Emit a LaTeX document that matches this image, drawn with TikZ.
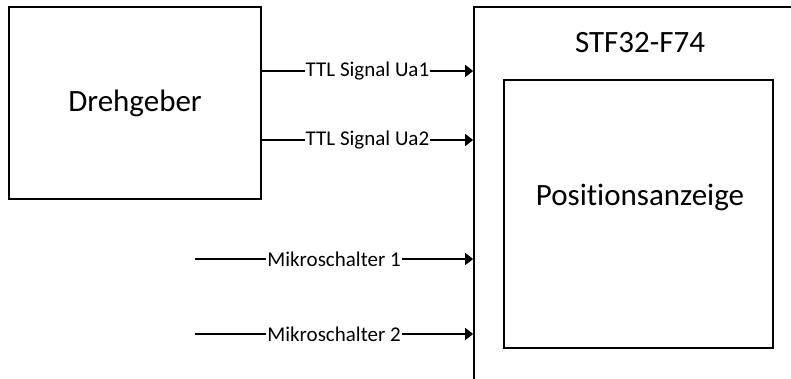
\documentclass[tikz,border=0pt]{standalone}
\usepackage{fontspec}
\setmainfont{Carlito}[Ligatures={NoCommon},Contextuals={NoAlternate}]
\usetikzlibrary{arrows.meta}
\begin{document}
\begin{tikzpicture}[x=1pt,y=-1pt,
  box/.style={draw=black,line width=1.7pt,fill=white,inner sep=0pt},
  bigtext/.style={font=\fontsize{31}{36}\selectfont,inner sep=0pt},
  lbl/.style={font=\fontsize{21}{24}\selectfont,fill=white,inner sep=1pt},
  arr/.style={line width=1.7pt,-{Triangle[length=8pt,width=12pt]}}]
\clip (0,0) rectangle (791,378);
\fill[white] (0,0) rectangle (791,378);
% Drehgeber
\node[box,minimum width=252pt,minimum height=192pt] (dreh) at (135,103) {};
\node[bigtext] (drehtext) at (135,103) {Drehgeber};
% STF32-F74 outer box (extends beyond the picture)
\node[box,minimum width=340pt,minimum height=400pt] (stf) at (644,207) {};
\node[bigtext] (stftext) at (640,43) {STF32-F74};
% Positionsanzeige inner box
\node[box,minimum width=269pt,minimum height=268pt] (pos) at (638.5,214) {};
\node[bigtext] (postext) at (640,197) {Positionsanzeige};
% free ends
\coordinate (m1) at (195,259);
\coordinate (m2) at (195,334);
% connectors
\draw[arr] (dreh.east |- 0,71) -- node[lbl] {TTL Signal Ua1} (stf.west |- 0,71);
\draw[arr] (dreh.east |- 0,140) -- node[lbl] {TTL Signal Ua2} (stf.west |- 0,140);
\draw[arr] (m1) -- node[lbl] {Mikroschalter 1} (stf.west |- m1);
\draw[arr] (m2) -- node[lbl] {Mikroschalter 2} (stf.west |- m2);
\end{tikzpicture}
\end{document}
